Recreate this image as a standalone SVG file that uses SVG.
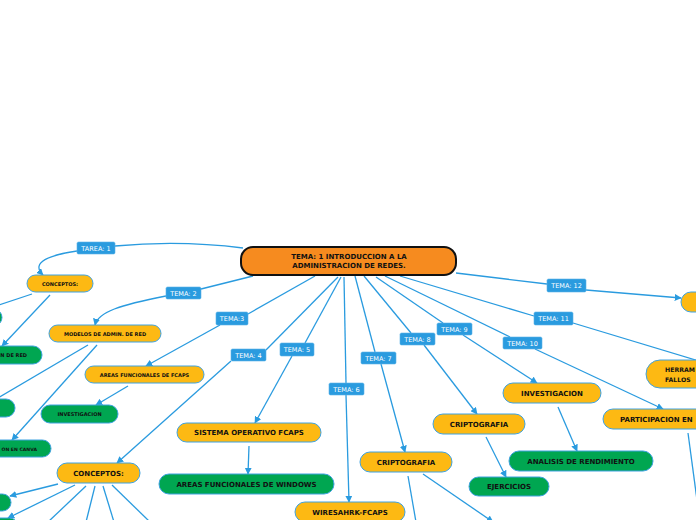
<svg xmlns="http://www.w3.org/2000/svg" width="696" height="520" viewBox="0 0 696 520">
<defs>
<marker id="ah" viewBox="0 0 10 10" markerWidth="7" markerHeight="7" markerUnits="userSpaceOnUse" refX="9" refY="5" orient="auto">
<path d="M0,0 L10,5 L0,10 Z" fill="#2A9BDF"/>
</marker>
<style>
.c{fill:none;stroke:#2A9BDF;stroke-width:1.3}
.a{marker-end:url(#ah)}
.y{fill:#FDB913;stroke:#3FA2E0;stroke-width:1}
.g{fill:#00A651;stroke:#3FA2E0;stroke-width:1}
.lb{fill:#2A9BDF;stroke:#5DB3E8;stroke-width:0.6}
.lt{font-family:"DejaVu Sans",sans-serif;font-size:6.5px;fill:#ffffff;text-anchor:middle}
.t{font-family:"DejaVu Sans",sans-serif;font-weight:bold;fill:#111111;text-anchor:middle}
.s{font-size:5px}
.m{font-size:7px}
</style>
</defs>
<rect width="696" height="520" fill="#ffffff"/>
<g id="connectors">
<path class="c" d="M243,248 Q180,240 115,246"/>
<path class="c a" d="M77,251 C50,255 30,262 43,275"/>
<path class="c" d="M253,276 L201,289"/>
<path class="c a" d="M166,296 C120,305 98,312 95,325"/>
<path class="c" d="M315,276 L248,314"/>
<path class="c a" d="M220,325 L146,366"/>
<path class="c" d="M338,277 L266,350"/>
<path class="c a" d="M231,361 L117,463"/>
<path class="c" d="M341,277 L305,343"/>
<path class="c a" d="M292,356 L255,423"/>
<path class="c" d="M344,277 L346,383"/>
<path class="c a" d="M346,395 L349,502"/>
<path class="c" d="M355,276 L375,352"/>
<path class="c a" d="M381,364 L405,452"/>
<path class="c" d="M364,276 L411,333"/>
<path class="c a" d="M424,345 L477,414"/>
<path class="c" d="M376,277 L443,323"/>
<path class="c a" d="M463,335 L537,383"/>
<path class="c" d="M385,276 L510,337"/>
<path class="c a" d="M535,349 L663,409"/>
<path class="c" d="M400,276 L534,316"/>
<path class="c" d="M573,323 L702,362"/>
<path class="c" d="M456,273 L547,284"/>
<path class="c a" d="M586,290 L681,298"/>
<path class="c" d="M32,294 L-10,308"/>
<path class="c a" d="M50,295 L2,346"/>
<path class="c" d="M88,345 L-4,399"/>
<path class="c a" d="M97,345 L12,440"/>
<path class="c a" d="M128,386 L96,405"/>
<path class="c a" d="M58,484 L10,496"/>
<path class="c a" d="M75,485 L8,518"/>
<path class="c" d="M86,486 L48,522"/>
<path class="c" d="M95,486 L86,522"/>
<path class="c" d="M103,486 L114,522"/>
<path class="c" d="M112,485 L150,522"/>
<path class="c a" d="M249,446 L248,474"/>
<path class="c" d="M408,476 L416,522"/>
<path class="c a" d="M423,474 L493,522"/>
<path class="c a" d="M486,437 L506,477"/>
<path class="c a" d="M558,407 L577,451"/>
<path class="c" d="M688,433 L697,500"/>
</g>
<g id="labels">
<g id="l-tarea1"><rect class="lb" x="77" y="242" width="38" height="12" rx="1.5"/><text class="lt" x="96" y="250.5">TAREA: 1</text></g>
<g id="l-tema2"><rect class="lb" x="166" y="287" width="35" height="12" rx="1.5"/><text class="lt" x="183.5" y="295.5">TEMA: 2</text></g>
<g id="l-tema3"><rect class="lb" x="216" y="312" width="32" height="13" rx="1.5"/><text class="lt" x="232" y="321">TEMA:3</text></g>
<g id="l-tema4"><rect class="lb" x="231" y="349" width="35" height="12" rx="1.5"/><text class="lt" x="248.5" y="357.5">TEMA: 4</text></g>
<g id="l-tema5"><rect class="lb" x="280" y="343" width="34" height="13" rx="1.5"/><text class="lt" x="297" y="352">TEMA: 5</text></g>
<g id="l-tema6"><rect class="lb" x="329" y="383" width="35" height="12" rx="1.5"/><text class="lt" x="346.5" y="391.5">TEMA: 6</text></g>
<g id="l-tema7"><rect class="lb" x="361" y="352" width="35" height="12" rx="1.5"/><text class="lt" x="378.5" y="360.5">TEMA: 7</text></g>
<g id="l-tema8"><rect class="lb" x="400" y="333" width="35" height="12" rx="1.5"/><text class="lt" x="417.5" y="341.5">TEMA: 8</text></g>
<g id="l-tema9"><rect class="lb" x="437" y="323" width="35" height="12" rx="1.5"/><text class="lt" x="454.5" y="331.5">TEMA: 9</text></g>
<g id="l-tema10"><rect class="lb" x="503" y="337" width="39" height="12" rx="1.5"/><text class="lt" x="522.5" y="345.5">TEMA: 10</text></g>
<g id="l-tema11"><rect class="lb" x="534" y="312" width="39" height="13" rx="1.5"/><text class="lt" x="553.5" y="321">TEMA: 11</text></g>
<g id="l-tema12"><rect class="lb" x="547" y="279" width="39" height="13" rx="1.5"/><text class="lt" x="566.5" y="288">TEMA: 12</text></g>
</g>
<g id="central"><rect x="241" y="247" width="215" height="28" rx="12" fill="#F68B1F" stroke="#111111" stroke-width="2"/><text class="t m" x="349" y="259">TEMA: 1 INTRODUCCION A LA</text><text class="t m" x="349" y="268">ADMINISTRACION DE REDES.</text></g>
<g id="n-conceptos1"><rect class="y" x="27" y="275" width="66" height="17" rx="8.5"/><text class="t s" x="60" y="285.5">CONCEPTOS:</text></g>
<g id="n-modelos"><rect class="y" x="49" y="325" width="112" height="17" rx="8.5"/><text class="t s" x="105" y="335.5">MODELOS DE ADMIN. DE RED</text></g>
<g id="n-areasfcaps"><rect class="y" x="85" y="366" width="119" height="17" rx="8.5"/><text class="t s" x="144.5" y="376.5">AREAS FUNCIONALES DE FCAPS</text></g>
<g id="n-invest-g"><rect class="g" x="41" y="405" width="77" height="18" rx="9"/><text class="t s" x="79.5" y="416">INVESTIGACION</text></g>
<g id="n-g1"><rect class="g" x="-60" y="309" width="62" height="17" rx="8.5"/></g>
<g id="n-g2"><rect class="g" x="-80" y="346" width="122" height="18" rx="9"/><text class="t s" x="27" y="357" style="text-anchor:end">N DE RED</text></g>
<g id="n-g3"><rect class="g" x="-60" y="399" width="75" height="18" rx="9"/></g>
<g id="n-g4"><rect class="g" x="-80" y="440" width="131" height="17" rx="8.5"/><text class="t" x="37" y="450.5" style="text-anchor:end;font-size:4.6px">ON EN CANVA</text></g>
<g id="n-g5"><rect class="g" x="-60" y="494" width="71" height="17" rx="8.5"/></g>
<g id="n-g6"><rect class="g" x="-60" y="518" width="78" height="17" rx="8.5"/></g>
<g id="n-conceptos2"><rect class="y" x="57" y="463" width="83" height="20" rx="10"/><text class="t m" x="98.5" y="475.5">CONCEPTOS:</text></g>
<g id="n-sistema"><rect class="y" x="177" y="423" width="144" height="19" rx="9.5"/><text class="t m" x="249" y="435">SISTEMA OPERATIVO FCAPS</text></g>
<g id="n-windows"><rect class="g" x="159" y="474" width="175" height="20" rx="10"/><text class="t m" x="246.5" y="486.5">AREAS FUNCIONALES DE WINDOWS</text></g>
<g id="n-wireshark"><rect class="y" x="295" y="502" width="110" height="20" rx="10"/><text class="t m" x="350" y="514.5">WIRESAHRK-FCAPS</text></g>
<g id="n-cripto7"><rect class="y" x="360" y="452" width="92" height="20" rx="10"/><text class="t m" x="406" y="464.5">CRIPTOGRAFIA</text></g>
<g id="n-cripto8"><rect class="y" x="433" y="414" width="92" height="20" rx="10"/><text class="t m" x="479" y="426.5">CRIPTOGRAFIA</text></g>
<g id="n-investigacion"><rect class="y" x="503" y="383" width="98" height="20" rx="10"/><text class="t m" x="552" y="395.5">INVESTIGACION</text></g>
<g id="n-analisis"><rect class="g" x="509" y="451" width="144" height="20" rx="10"/><text class="t m" x="581" y="463.5">ANALISIS DE RENDIMIENTO</text></g>
<g id="n-ejercicios"><rect class="g" x="469" y="477" width="80" height="19" rx="9.5"/><text class="t m" x="509" y="489">EJERCICIOS</text></g>
<g id="n-participacion"><rect class="y" x="603" y="409" width="120" height="20" rx="10"/><text class="t m" x="620" y="421.5" style="text-anchor:start">PARTICIPACION EN</text></g>
<g id="n-herram"><rect class="y" x="646" y="360" width="80" height="28" rx="14"/><text class="t" x="665" y="372" style="text-anchor:start;font-size:6.2px">HERRAM</text><text class="t" x="665" y="382" style="text-anchor:start;font-size:6.2px">FALLOS</text></g>
<g id="n-tema12"><rect class="y" x="681" y="292" width="40" height="20" rx="10"/></g>
</svg>
